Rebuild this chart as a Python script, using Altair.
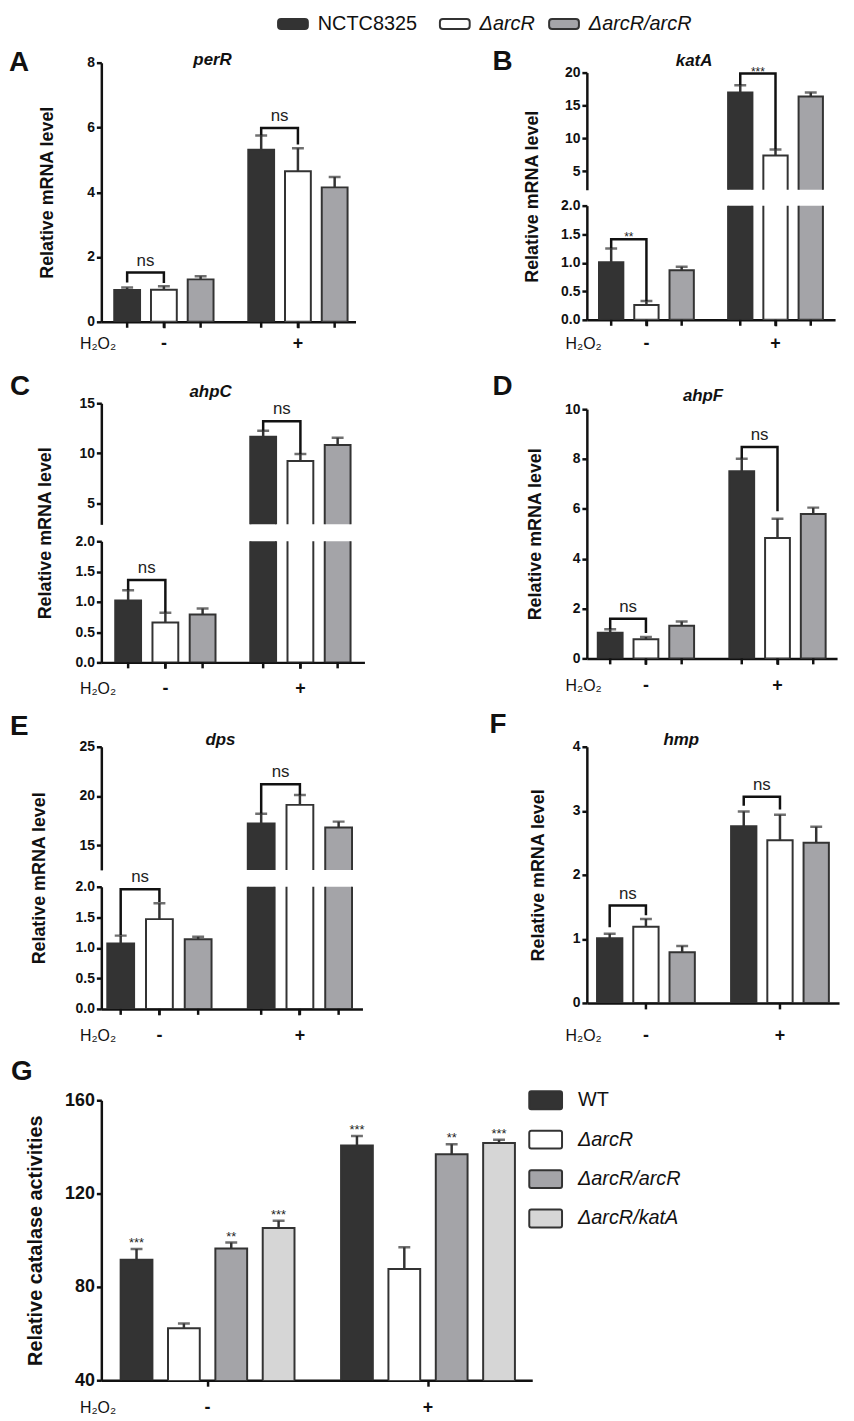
import altair as alt
import pandas as pd

FONT = "Liberation Sans"
INK = "#111111"
EDGE = "#333333"

GROUPS = ["-", "+"]
STRAINS = ["NCTC8325", "ΔarcR", "ΔarcR/arcR"]
STRAIN_COLORS = ["#333333", "#ffffff", "#a4a4a8"]

# order: (-) NCTC8325, ΔarcR, ΔarcR/arcR, (+) NCTC8325, ΔarcR, ΔarcR/arcR
perR_mean = [0.98, 0.99, 1.31, 5.31, 4.65, 4.15]
perR_upper = [1.06, 1.10, 1.41, 5.75, 5.36, 4.47]
perR_brackets = [("-", 1.21, 1.52, 1.20, "ns"), ("+", 5.75, 5.98, 5.47, "ns")]

katA_mean = [1.01, 0.26, 0.87, 16.98, 7.42, 16.38]
katA_upper = [1.25, 0.33, 0.93, 18.09, 8.32, 16.98]
katA_brackets = [("-", 1.25, 1.41, 0.33, "**"), ("+", 18.09, 19.85, 8.32, "***")]

ahpC_mean = [1.02, 0.66, 0.79, 11.64, 9.24, 10.82]
ahpC_upper = [1.19, 0.82, 0.89, 12.24, 9.93, 11.55]
ahpC_brackets = [("-", 1.19, 1.36, 0.82, "ns"), ("+", 12.24, 13.19, 9.93, "ns")]

ahpF_mean = [1.03, 0.77, 1.31, 7.51, 4.83, 5.79]
ahpF_upper = [1.17, 0.86, 1.48, 8.01, 5.60, 6.05]
ahpF_brackets = [("-", 1.17, 1.59, 1.02, "ns"), ("+", 8.01, 8.48, 5.90, "ns")]

dps_mean = [1.07, 1.47, 1.14, 17.2, 19.1, 16.8]
dps_upper = [1.20, 1.73, 1.18, 18.2, 20.1, 17.4]
dps_brackets = [("-", 1.21, 1.96, 1.75, "ns"), ("+", 18.2, 21.2, 20.1, "ns")]

hmp_mean = [1.01, 1.19, 0.79, 2.76, 2.54, 2.50]
hmp_upper = [1.08, 1.31, 0.89, 2.99, 2.94, 2.75]
hmp_brackets = [("-", 1.18, 1.52, 1.37, "ns"), ("+", 3.08, 3.22, 3.02, "ns")]

CAT_STRAINS = ["WT", "ΔarcR", "ΔarcR/arcR", "ΔarcR/katA"]
CAT_COLORS = ["#333333", "#ffffff", "#a4a4a8", "#d6d6d6"]
cat_mean = [91.6, 62.3, 96.5, 105.2, 140.6, 87.7, 136.9, 141.7]
cat_upper = [96.2, 64.3, 99.0, 108.4, 144.7, 97.0, 141.1, 143.1]
cat_stars = ["***", "", "**", "***", "***", "", "**", "***"]

DUMMY = pd.DataFrame({"k": [0]})
IND = dict(x="independent", y="independent", xOffset="independent", fill="independent")


def band_params(W, c1, S, d, n):
    B = n * d
    pi = 1 - B / S
    po = max(0.0, (W / S - 2 + pi) / 2)
    step = W / (2 - pi + 2 * po)
    free = W - step * (2 - pi)
    al = (c1 - B / 2) / free if free > 0.5 else 0.5
    return pi, po, min(1.0, max(0.0, al))


def bar_table(strains, means, uppers, stars=None):
    rows = []
    for gi, g in enumerate(GROUPS):
        for si, s in enumerate(strains):
            i = gi * len(strains) + si
            r = {"group": g, "strain": s, "mean": means[i], "upper": uppers[i]}
            if stars is not None:
                r["star"] = stars[i]
            rows.append(r)
    return pd.DataFrame(rows)


def bracket_tables(brackets, strains):
    lines, labels = [], []
    for bi, (g, left, top, right, lab) in enumerate(brackets):
        pts = [(strains[0], left), (strains[0], top), (strains[1], top), (strains[1], right)]
        for k, (s, y) in enumerate(pts):
            lines.append({"bid": bi, "group": g, "strain": s, "by": y, "k": k})
        labels.append({"bid": bi, "group": g, "top": top, "label": lab})
    return pd.DataFrame(lines), pd.DataFrame(labels)


def frame_layer(fr):
    x0, y0, x1, y1 = fr
    return alt.Chart(DUMMY).mark_rect(opacity=0).encode(
        x=alt.value(x0), x2=alt.value(x1), y=alt.value(y0), y2=alt.value(y1))


def panel(strains, colors, means, uppers, lay, parts, frame, gap=0, brackets=(), stars=None,
          bar_ticks=True, letter="", gene="", ytitle="Relative mRNA level",
          ytitle_size=18, label_size=14, extra=()):
    n = len(strains)
    pi, po, al = band_params(lay["W"], lay["c1"], lay["S"], lay["d"], n)
    xsc = alt.Scale(domain=GROUPS, paddingInner=pi, paddingOuter=po, align=al)
    op = (lay["d"] - lay["bw"]) / lay["d"]
    xosc = alt.Scale(domain=strains, paddingInner=op, paddingOuter=op / 2)
    fsc = alt.Scale(domain=strains, range=colors)
    bars_df = bar_table(strains, means, uppers, stars)
    total_h = sum(p["h"] for p in parts) + gap * (len(parts) - 1)

    def part_of(top_val):
        if len(parts) == 1:
            return 0
        return len(parts) - 1 if top_val <= parts[-1]["domain"][1] else 0

    subs = []
    for i, p in enumerate(parts):
        is_top = i == 0
        is_bottom = i == len(parts) - 1
        ysc = alt.Scale(domain=p["domain"], nice=False, zero=False)
        ykw = dict(values=p["values"], format=p["fmt"], labelFontSize=label_size)
        if is_top:
            ykw.update(title=ytitle, titleFontSize=ytitle_size, titleFontWeight="bold",
                       titleAngle=270, titleAlign="center", titleBaseline="middle",
                       titleX=lay["ytx"], titleY=total_h / 2)
        else:
            ykw.update(title=None)
        yax = alt.Axis(**ykw)
        if is_bottom:
            xax = alt.Axis(title="H₂O₂", labelAngle=0, labelFontSize=18, labelBaseline="middle",
                           labelPadding=lay["hy"] - 6, tickSize=6, titleFontSize=16,
                           titleFontWeight="normal", titleX=-22, titleY=lay["hy"],
                           titleAlign="left", titleBaseline="middle", titleAngle=0)
        else:
            xax = None
        X = alt.X("group:N", scale=xsc, sort=GROUPS, axis=xax)
        XO = alt.XOffset("strain:N", scale=xosc, sort=strains)

        def Y(f):
            return alt.Y(f, type="quantitative", scale=ysc, axis=yax)

        base = alt.Chart(bars_df)
        layers = [
            base.mark_bar(stroke=EDGE, strokeWidth=2, clip=True).encode(
                x=X, xOffset=XO, y=Y("mean"), y2=alt.Y2(datum=0),
                fill=alt.Fill("strain:N", scale=fsc, legend=None)),
            base.mark_rule(color=EDGE, strokeWidth=2.5, clip=True).encode(
                x=X, xOffset=XO, y=Y("mean"), y2="upper"),
            base.mark_tick(color=EDGE, thickness=2.5, size=12, clip=True).encode(
                x=X, xOffset=XO, y=Y("upper")),
        ]
        if brackets:
            line_df, lab_df = bracket_tables(brackets, strains)
            sel = [b for b in range(len(brackets)) if part_of(brackets[b][2]) == i]
            if sel:
                ld = line_df[line_df.bid.isin(sel)]
                layers.append(alt.Chart(ld).mark_line(color=INK, strokeWidth=2.5).encode(
                    x=X, xOffset=XO, y=Y("by"), detail="bid:N", order="k:Q"))
                lb = lab_df[lab_df.bid.isin(sel)]
                ns = lb[lb.label == "ns"]
                st = lb[lb.label != "ns"]
                if len(ns):
                    layers.append(alt.Chart(ns).mark_text(
                        dx=-lay["d"] / 2, dy=-7, fontSize=17, baseline="alphabetic", color="#222").encode(
                        x=X, y=Y("top"), text="label:N"))
                if len(st):
                    layers.append(alt.Chart(st).mark_text(
                        dx=-lay["d"] / 2, dy=2, fontSize=12, baseline="alphabetic", color="#222").encode(
                        x=X, y=Y("top"), text="label:N"))
        if stars is not None:
            layers.append(base.mark_text(fontSize=13, baseline="bottom", dy=1, color="#222").encode(
                x=X, xOffset=XO, y=Y("upper"), text="star:N"))
        if is_bottom and bar_ticks:
            layers.append(base.mark_rule(color=INK, strokeWidth=2.5).encode(
                x=X, xOffset=XO, y=alt.value(p["h"]), y2=alt.value(p["h"] + 6)))
        if is_top:
            layers.append(frame_layer(frame))
            layers.append(alt.Chart(DUMMY).mark_text(
                text=letter, fontSize=28, fontWeight="bold", align="left",
                baseline="alphabetic", color=INK).encode(
                x=alt.value(lay["lx"]), y=alt.value(lay["ly"])))
            if gene:
                layers.append(alt.Chart(DUMMY).mark_text(
                    text=gene, fontSize=17, fontWeight="bold", fontStyle="italic",
                    align="center", baseline="alphabetic", color=INK).encode(
                    x=alt.value(lay["gx"]), y=alt.value(lay["gy"])))
            layers.extend(extra)
        subs.append(alt.layer(*layers).properties(width=lay["W"], height=p["h"]))
    if len(subs) == 1:
        return subs[0]
    return alt.vconcat(*subs, spacing=gap, bounds="flush").resolve_scale(**IND)


def lin(domain, values, h, fmt="d"):
    return {"domain": domain, "values": values, "h": h, "fmt": fmt}


BOT2 = [0, 0.5, 1.0, 1.5, 2.0]

A = panel(STRAINS, STRAIN_COLORS, perR_mean, perR_upper,
          dict(W=256, c1=63, S=135, d=37, bw=26, ytx=-54, hy=22, lx=-93, ly=8, gx=112, gy=2),
          [lin([0, 8], [0, 2, 4, 6, 8], 261)], frame=(-94, -50, 368, 302),
          brackets=perR_brackets, letter="A", gene="perR")

B = panel(STRAINS, STRAIN_COLORS, katA_mean, katA_upper,
          dict(W=250, c1=60, S=130, d=35.5, bw=24.5, ytx=-55, hy=24, lx=-95, ly=-3, gx=108, gy=-7),
          [lin([2.2, 20], [5, 10, 15, 20], 118), lin([0, 2], BOT2, 115, ".1f")],
          frame=(-120, -50, 256, 292), gap=16,
          brackets=katA_brackets, letter="B", gene="katA")

C = panel(STRAINS, STRAIN_COLORS, ahpC_mean, ahpC_upper,
          dict(W=265, c1=64.5, S=136, d=37.5, bw=26, ytx=-56, hy=26, lx=-92, ly=-8, gx=110, gy=-6),
          [lin([2.9, 15], [5, 10, 15], 122), lin([0, 2], BOT2, 122, ".1f")],
          frame=(-94, -41, 368, 304), gap=17,
          brackets=ahpC_brackets, letter="C", gene="ahpC")

D = panel(STRAINS, STRAIN_COLORS, ahpF_mean, ahpF_upper,
          dict(W=252, c1=59.5, S=132.5, d=36, bw=25, ytx=-52, hy=27, lx=-95, ly=-14, gx=117, gy=-8),
          [lin([0, 10], [0, 2, 4, 6, 8, 10], 251)], frame=(-120, -47, 256, 298),
          brackets=ahpF_brackets, letter="D", gene="ahpF")

E = panel(STRAINS, STRAIN_COLORS, dps_mean, dps_upper,
          dict(W=263, c1=55.5, S=141.5, d=39, bw=27, ytx=-62, hy=27, lx=-92, ly=-12, gx=120, gy=-2),
          [lin([12.5, 25], [15, 20, 25], 124), lin([0, 2], BOT2, 123, ".1f")],
          frame=(-94, -42, 368, 303), gap=17,
          brackets=dps_brackets, letter="E", gene="dps")

F = panel(STRAINS, STRAIN_COLORS, hmp_mean, hmp_upper,
          dict(W=254, c1=59.5, S=135, d=36.5, bw=25.5, ytx=-49, hy=33, lx=-98, ly=-14, gx=95, gy=-2),
          [lin([0, 4], [0, 1, 2, 3, 4], 258)], frame=(-120, -42, 256, 303),
          brackets=hmp_brackets, bar_ticks=False, letter="F", gene="hmp")

# legend of panel G
g_legend = []
for i, (s, c) in enumerate(zip(CAT_STRAINS, CAT_COLORS)):
    yc = i * 39.7
    g_legend.append(alt.Chart(DUMMY).mark_rect(fill=c, stroke=EDGE, strokeWidth=2, cornerRadius=2).encode(
        x=alt.value(431), x2=alt.value(464), y=alt.value(yc - 9), y2=alt.value(yc + 9)))
    g_legend.append(alt.Chart(DUMMY).mark_text(
        text=s, fontSize=20, fontStyle="normal" if i == 0 else "italic", align="left",
        baseline="middle", color=INK).encode(x=alt.value(480), y=alt.value(yc)))

G = panel(CAT_STRAINS, CAT_COLORS, cat_mean, cat_upper,
          dict(W=434, c1=107, S=222, d=47.7, bw=32, ytx=-66, hy=27, lx=-91, ly=-20),
          [lin([40, 160], [40, 80, 120, 160], 282)], frame=(-94, -53, 658, 318),
          stars=cat_stars, bar_ticks=False, letter="G",
          ytitle="Relative catalase activities", ytitle_size=20, label_size=18,
          extra=g_legend)

# top legend (placed relative to the origin of panel B's column)
LEG_BOX_X = [-311, -148, -38]
top_items = []
for i, (s, c) in enumerate(zip(STRAINS, STRAIN_COLORS)):
    x0 = LEG_BOX_X[i]
    top_items.append(alt.Chart(DUMMY).mark_rect(fill=c, stroke=EDGE, strokeWidth=2, cornerRadius=3).encode(
        x=alt.value(x0), x2=alt.value(x0 + 30), y=alt.value(-44), y2=alt.value(-34)))
    top_items.append(alt.Chart(DUMMY).mark_text(
        text=s, fontSize=20, fontStyle="normal" if i == 0 else "italic", align="left",
        baseline="middle", color=INK).encode(x=alt.value(x0 + 40), y=alt.value(-39)))
legend_top = alt.layer(*top_items).properties(width=1, height=1)

left = alt.vconcat(A, C, E, spacing=0).resolve_scale(**IND)
right_inner = alt.vconcat(B, D, F, spacing=0).resolve_scale(**IND)
right = alt.vconcat(legend_top, right_inner, spacing=-41).resolve_scale(**IND)
row = alt.hconcat(left, right, spacing=-191).resolve_scale(**IND)

chart = alt.vconcat(row, G, spacing=0).resolve_scale(**IND).properties(
    padding={"left": 0, "top": 0, "right": 5, "bottom": 0}
).configure(font=FONT).configure_view(stroke=None).configure_axis(
    domainColor=INK, domainWidth=2.5, tickColor=INK, tickWidth=2.5, tickSize=5,
    labelColor=INK, labelFont=FONT, labelFontWeight="bold", labelFontSize=14,
    labelPadding=2, titleColor=INK, titleFont=FONT, grid=False
).configure_text(font=FONT)

chart.save("out.html", embed_options={"renderer": "svg", "actions": False})
